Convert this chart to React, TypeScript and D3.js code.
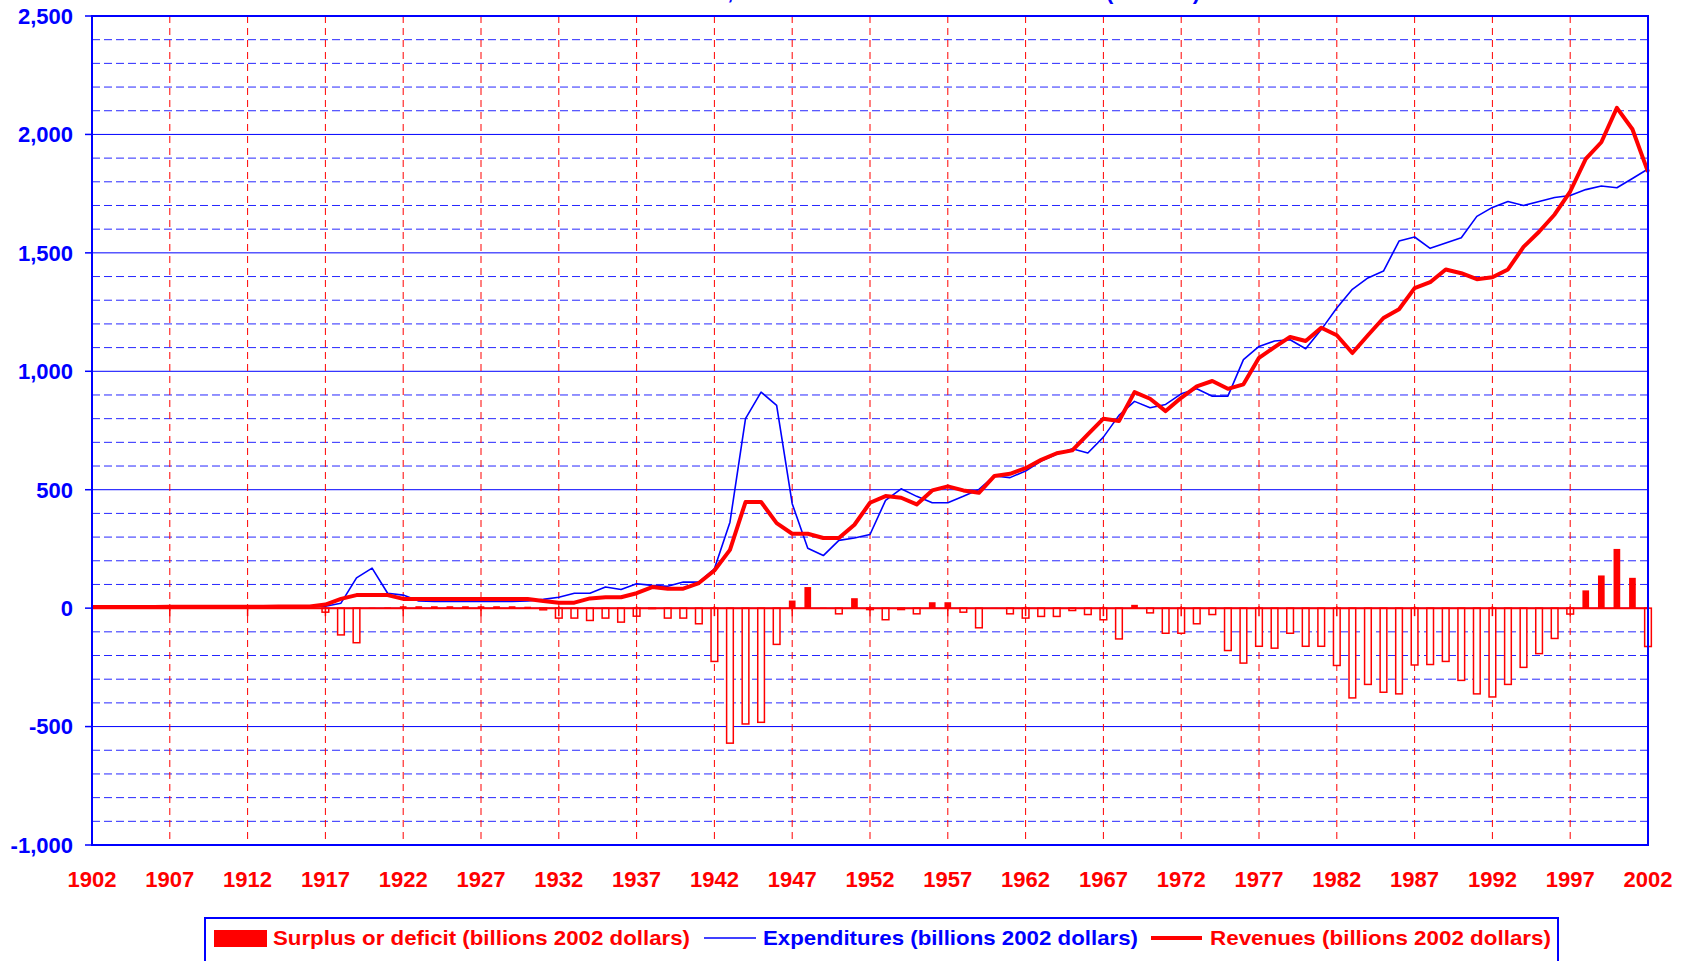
import React from "react";
import * as d3 from "d3";

const years: number[] = d3.range(1902, 2003);

const expenditures: number[] = [
  5, 5, 6, 6, 6, 6, 7, 7, 7, 7, 7, 7, 8, 8, 8, // 1902-1916
  8, 21, 128, 169, 63, 55, 30, 28, 28, 28, 28, 28, 28, 30, // 1917-1930
  37, 46, 63, 63, 89, 79, 103, 96, 92, 110, // 1931-1940
  110, 166, 363, 800, 912, 856, 441, 253, 222, 286, // 1941-1950
  296, 311, 455, 504, 472, 445, 445, 472, 501, 558, // 1951-1960
  551, 579, 621, 650, 673, 655, 722, 814, 873, 846, // 1961-1970
  860, 905, 926, 895, 895, 1049, 1105, 1128, 1133, 1095, // 1971-1980
  1176, 1267, 1346, 1394, 1423, 1550, 1567, 1519, 1542, 1564, // 1981-1990
  1654, 1692, 1717, 1700, 1717, 1734, 1742, 1767, 1782, 1775, // 1991-2000
  1814, 1854, // 2001-2002
];

const revenues: number[] = [
  5, 5, 5, 5, 5, 6, 6, 6, 6, 6, 6, 6, 7, 7, 7, // 1902-1916
  15, 39, 55, 55, 55, 39, 39, 39, 39, 39, 39, 39, 39, 39, // 1917-1930
  30, 23, 23, 41, 46, 46, 63, 89, 82, 82, // 1931-1940
  106, 159, 246, 448, 448, 359, 314, 314, 296, 296, // 1941-1950
  352, 445, 473, 466, 438, 497, 514, 497, 487, 558, // 1951-1960
  567, 591, 626, 654, 666, 734, 800, 790, 912, 884, // 1961-1970
  832, 888, 936, 959, 926, 945, 1057, 1102, 1145, 1128, // 1971-1980
  1184, 1152, 1077, 1152, 1225, 1262, 1351, 1376, 1430, 1414, // 1981-1990
  1389, 1397, 1430, 1525, 1589, 1662, 1759, 1897, 1967, 2112, // 1991-2000
  2022, 1842, // 2001-2002
];

const surplus: number[] = [
  0, 0, 0, 0, 0, 0, 0, 0, 0, 0, 0, 0, 0, 0, 0, // 1902-1916
  -17, -113, -146, 2, 3, 8, 8, 8, 8, 8, 8, 8, 8, 6, // 1917-1930
  -7, -42, -42, -52, -42, -59, -34, -2, -42, -42, // 1931-1940
  -66, -225, -570, -489, -482, -153, 32, 89, 2, -24, // 1941-1950
  42, -6, -49, -6, -24, 25, 25, -17, -83, 1, // 1951-1960
  -24, -42, -35, -35, -10, -27, -49, -130, 14, -20, // 1961-1970
  -106, -106, -66, -27, -179, -232, -161, -169, -106, -161, // 1971-1980
  -161, -242, -379, -322, -355, -362, -240, -238, -225, -305, // 1981-1990
  -362, -375, -322, -250, -192, -128, -25, 75, 138, 250, // 1991-2000
  128, -162, // 2001-2002
];

const yTicks: number[] = [-1000, -500, 0, 500, 1000, 1500, 2000, 2500];
const xTickYears: number[] = d3.range(1902, 2003, 5);
const gridValues: number[] = d3.range(-900, 2500, 100);

const legendLabels = {
  surplus: "Surplus or deficit (billions 2002 dollars)",
  expenditures: "Expenditures (billions 2002 dollars)",
  revenues: "Revenues (billions 2002 dollars)",
};
const titleText = "U.S. Federal Revenues, Total Federal Costs and the Deficit (Billions)";

const W = 1683;
const H = 961;
const PL = 92;
const PR = 1648;
const PT = 16;
const PB = 845;
const BLUE = "#0000ff";
const RED = "#ff0000";
const FONT = "'Liberation Sans', Arial, Helvetica, sans-serif";

const fmtY = (v: number) => d3.format(",")(v).replace("\u2212", "-");

export default function App() {
  const x = d3.scaleLinear().domain([1902, 2002]).range([PL, PR]);
  const y = d3.scaleLinear().domain([-1000, 2500]).range([PB, PT]);
  const step = x(1903) - x(1902);
  const bw = step * 0.43;
  const y0 = y(0);

  const lineGen = d3
    .line<number>()
    .x((_, i) => x(years[i]))
    .y((d) => y(d));

  return (
    <svg
      width={W}
      height={H}
      viewBox={`0 0 ${W} ${H}`}
      style={{ position: "absolute", left: 0, top: 0, display: "block", background: "#fff" }}
      fontFamily={FONT}
    >
      <rect x={0} y={0} width={W} height={H} fill="#fff" />
      {/* title (mostly cut off at the top, as in the reference) */}
      <text x={1200} y={-1} textAnchor="end" fill={BLUE} fontWeight="bold" fontSize={22}>
        {titleText}
      </text>

      {/* horizontal grid */}
      {gridValues.map((v) =>
        v % 500 === 0 ? (
          <line key={"g" + v} x1={PL} x2={PR} y1={y(v)} y2={y(v)} stroke={BLUE} strokeWidth={1} />
        ) : (
          <line
            key={"g" + v}
            x1={PL}
            x2={PR}
            y1={y(v)}
            y2={y(v)}
            stroke={BLUE}
            strokeOpacity={0.85}
            strokeWidth={1}
            strokeDasharray="8,4"
          />
        )
      )}

      {/* vertical red dashed grid */}
      {xTickYears
        .filter((yr) => yr !== 1902 && yr !== 2002)
        .map((yr) => (
          <line
            key={"v" + yr}
            x1={x(yr)}
            x2={x(yr)}
            y1={PT}
            y2={PB}
            stroke={RED}
            strokeWidth={1}
            strokeDasharray="7,5"
          />
        ))}

      {/* surplus / deficit bars */}
      {surplus.map((v, i) => {
        const top = v >= 0 ? y(v) : y0;
        const h = Math.abs(y(v) - y0);
        return v >= 0 ? (
          <rect key={"b" + i} x={x(years[i]) - bw / 2} y={top} width={bw} height={h} fill={RED} />
        ) : (
          <rect
            key={"b" + i}
            x={x(years[i]) - bw / 2}
            y={top}
            width={bw}
            height={h}
            fill="#fff"
            stroke={RED}
            strokeWidth={1.5}
          />
        );
      })}

      {/* zero axis line and ticks */}
      <line x1={PL} x2={PR} y1={y0} y2={y0} stroke={RED} strokeWidth={2} />
      {xTickYears.map((yr) => (
        <line key={"t" + yr} x1={x(yr)} x2={x(yr)} y1={y0 - 2} y2={y0 + 8} stroke={RED} strokeWidth={1.5} />
      ))}

      {/* expenditures */}
      <path d={lineGen(expenditures) || ""} fill="none" stroke={BLUE} strokeWidth={1.6} strokeLinejoin="round" />
      {/* revenues */}
      <path d={lineGen(revenues) || ""} fill="none" stroke={RED} strokeWidth={4} strokeLinejoin="round" />

      {/* plot border */}
      <rect x={PL} y={PT} width={PR - PL} height={PB - PT} fill="none" stroke={BLUE} strokeWidth={2} />

      {/* y axis ticks and labels */}
      {yTicks.map((v) => (
        <g key={"y" + v}>
          <line x1={PL - 7} x2={PL} y1={y(v)} y2={y(v)} stroke={BLUE} strokeWidth={1.5} />
          <text
            x={PL - 19}
            y={y(v)}
            dy="0.36em"
            textAnchor="end"
            fill={BLUE}
            fontWeight="bold"
            fontSize={22}
          >
            {fmtY(v)}
          </text>
        </g>
      ))}

      {/* x axis labels */}
      {xTickYears.map((yr) => (
        <text key={"xl" + yr} x={x(yr)} y={887} textAnchor="middle" fill={RED} fontWeight="bold" fontSize={22}>
          {yr}
        </text>
      ))}

      {/* legend */}
      <rect x={205} y={918} width={1353} height={70} fill="#fff" stroke={BLUE} strokeWidth={2} />
      <rect x={214} y={930} width={53} height={17} fill={RED} />
      <text
        x={273}
        y={945}
        fill={RED}
        fontWeight="bold"
        fontSize={21}
        textLength={417}
        lengthAdjust="spacingAndGlyphs"
      >
        {legendLabels.surplus}
      </text>
      <line x1={704} x2={756} y1={938} y2={938} stroke={BLUE} strokeWidth={1.6} />
      <text
        x={763}
        y={945}
        fill={BLUE}
        fontWeight="bold"
        fontSize={21}
        textLength={375}
        lengthAdjust="spacingAndGlyphs"
      >
        {legendLabels.expenditures}
      </text>
      <line x1={1151} x2={1202} y1={938} y2={938} stroke={RED} strokeWidth={4} />
      <text
        x={1210}
        y={945}
        fill={RED}
        fontWeight="bold"
        fontSize={21}
        textLength={341}
        lengthAdjust="spacingAndGlyphs"
      >
        {legendLabels.revenues}
      </text>
    </svg>
  );
}
